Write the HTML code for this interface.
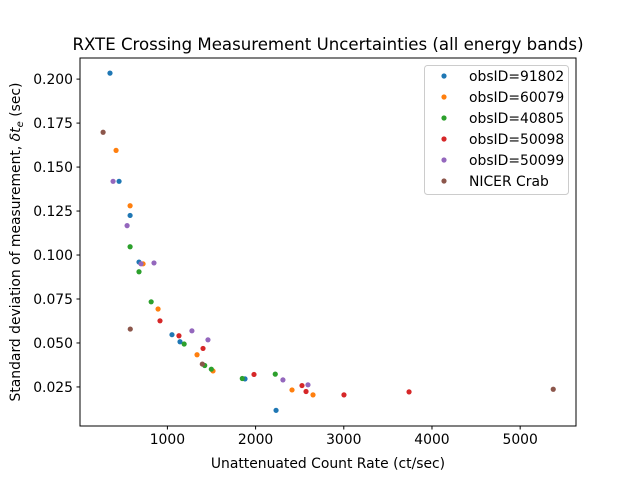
<!DOCTYPE html>
<html><head><meta charset="utf-8"><style>
body{margin:0;background:#fff}
svg{font-family:"DejaVu Sans","Liberation Sans",sans-serif}
</style></head><body>
<svg id="chart" width="640" height="480">
<text x="328" y="50" text-anchor="middle" font-size="16.6">RXTE Crossing Measurement Uncertainties (all energy bands)</text>
<g id="plot"></g>
<g id="axes"></g>
<rect x="80" y="58" width="496" height="368" fill="none" stroke="#000" stroke-width="1"/>
<text x="328" y="468" text-anchor="middle" font-size="13.9">Unattenuated Count Rate (ct/sec)</text>
<text transform="translate(20,242) rotate(-90)" text-anchor="middle" font-size="13.9">Standard deviation of measurement, <tspan font-style="italic">δt</tspan><tspan font-style="italic" font-size="10" dy="3">e</tspan><tspan dy="-3"> (sec)</tspan></text>
<g id="legend"></g>
</svg>
<script>
const seriesNames=["obsID=91802","obsID=60079","obsID=40805","obsID=50098","obsID=50099","NICER Crab"];
const colors=["#1f77b4","#ff7f0e","#2ca02c","#d62728","#9467bd","#8c564b"];
const xs91802=[349,452,577,678,1052,1143,1880,2232];
const ys91802=[0.2034,0.1419,0.1225,0.0960,0.0547,0.0507,0.0296,0.0117];
const xs60079=[418,577,724,894,1336,1517,2413,2651];
const ys60079=[0.1595,0.128,0.0950,0.0693,0.0433,0.0341,0.0233,0.0205];
const xs40805=[577,678,816,1190,1423,1498,1849,2223];
const ys40805=[0.1047,0.0905,0.0734,0.0494,0.0372,0.0351,0.0298,0.0323];
const xs50098=[916,1131,1404,1982,2526,2572,3002,3740];
const ys50098=[0.0626,0.0541,0.0469,0.0321,0.0258,0.0224,0.0205,0.0222];
const xs50099=[384,543,701,848,1278,1460,2310,2594];
const ys50099=[0.1419,0.1167,0.0950,0.0955,0.0569,0.0518,0.0290,0.0262];
const xsNicer=[271,579,1396,5375];
const ysNicer=[0.1698,0.0579,0.0380,0.0237];
const xTicks=[1000,2000,3000,4000,5000];
const yTicks=[0.025,0.050,0.075,0.100,0.125,0.150,0.175,0.200];
const yTickLabels=["0.025","0.050","0.075","0.100","0.125","0.150","0.175","0.200"];
const seriesX=[xs91802,xs60079,xs40805,xs50098,xs50099,xsNicer];
const seriesY=[ys91802,ys60079,ys40805,ys50098,ys50099,ysNicer];

const X0=80,X1=576,Y0=58,Y1=426,xmin=9,xmax=5633,ymin=0.0028,ymax=0.212;
const sx=v=>X0+(v-xmin)/(xmax-xmin)*(X1-X0);
const sy=v=>Y1-(v-ymin)/(ymax-ymin)*(Y1-Y0);
const NS="http://www.w3.org/2000/svg";
function mk(tag,attrs,parent){const e=document.createElementNS(NS,tag);for(const k in attrs)e.setAttribute(k,attrs[k]);parent.appendChild(e);return e;}
const plot=document.getElementById('plot'),axes=document.getElementById('axes'),legend=document.getElementById('legend');
seriesX.forEach((xa,si)=>{xa.forEach((xv,i)=>{
 const c=mk('circle',{cx:sx(xv),cy:sy(seriesY[si][i]),r:2.6,fill:colors[si]},plot);
 
 
});});
xTicks.forEach(t=>{const x=sx(t);
 const l=mk('line',{x1:x,x2:x,y1:Y1,y2:Y1+3.5,stroke:'#000'},axes);
 
 
 const tx=mk('text',{x:x,y:Y1+18,'text-anchor':'middle','font-size':'13.9'},axes);tx.textContent=t;
 
 
});
yTicks.forEach((t,i)=>{const y=sy(t);
 const l=mk('line',{x1:X0-3.5,x2:X0,y1:y,y2:y,stroke:'#000'},axes);
 
 
 const tx=mk('text',{x:X0-7,y:y+5,'text-anchor':'end','font-size':'13.9'},axes);tx.textContent=yTickLabels[i];
 
 
});
const lb=mk('rect',{x:424.5,y:65.5,width:144,height:129,rx:3,fill:'#fff','fill-opacity':0.8,stroke:'#ccc'},legend);


seriesNames.forEach((n,i)=>{const y=76+i*21;
 const c=mk('circle',{cx:444,cy:y,r:2.6,fill:colors[i]},legend);
 
 
 const t=mk('text',{x:469,y:y+5,'font-size':'13.9'},legend);t.textContent=n;
 
 
});
</script>
</body></html>
